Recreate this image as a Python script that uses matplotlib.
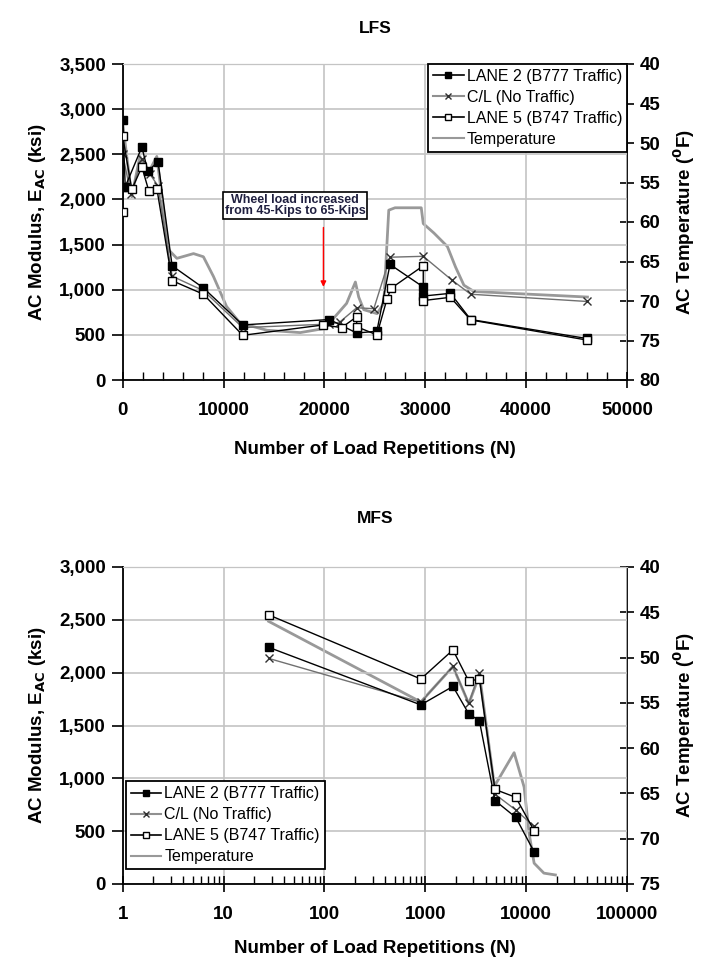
import matplotlib
matplotlib.use("Agg")
import matplotlib.pyplot as plt
from matplotlib.ticker import MultipleLocator, FuncFormatter, LogLocator, FixedLocator, NullFormatter
from matplotlib.lines import Line2D

plt.rcParams['font.family'] = ['Liberation Sans', 'DejaVu Sans']

# ---------------- LFS data ----------------
lfs_lane2_n = [0, 0, 250, 1900, 2500, 3500, 4900, 8000, 11900, 20500, 23200, 25200, 26500, 29800, 29800, 32500, 34500, 46000]
lfs_lane2_e = [2140, 2880, 2140, 2580, 2310, 2420, 1265, 1020, 610, 670, 520, 540, 1280, 1030, 930, 960, 670, 460]
lfs_cl_n = [0, 800, 1900, 2700, 3500, 4900, 8000, 11900, 20500, 21500, 23200, 24900, 26500, 29800, 32600, 34500, 46000]
lfs_cl_e = [2500, 2060, 2450, 2280, 2150, 1150, 990, 580, 620, 640, 800, 790, 1360, 1370, 1110, 950, 870]
lfs_lane5_n = [0, 0, 900, 1900, 2600, 3400, 4900, 8000, 11900, 19900, 21700, 23200, 23200, 25200, 26200, 26600, 29800, 29800, 32500, 34500, 46000]
lfs_lane5_e = [1865, 2700, 2110, 2360, 2090, 2110, 1100, 950, 495, 610, 580, 700, 590, 500, 895, 1015, 1265, 880, 916, 665, 443]
lfs_temp_n = [0, 900, 1700, 2540, 3380, 4540, 5370, 7020, 8000, 9000, 10300, 11650, 14300, 17600, 19900, 20900,
              22200, 23070, 23400, 23900, 25220, 25880, 26380, 27000, 29600, 29800, 30860, 32190, 33000, 33830, 34830, 46080]
lfs_temp_t = [47.5, 56.8, 51.7, 53.8, 51.7, 63.5, 64.6, 64.0, 64.4, 66.9, 70.7, 72.8, 73.7, 74.0, 73.5, 72.2,
              70.3, 67.6, 69.5, 71.1, 71.6, 70.3, 58.5, 58.2, 58.2, 60.2, 61.4, 63.1, 65.7, 68.0, 68.8, 69.5]

# ---------------- MFS data ----------------
mfs_n = [28, 903, 1880, 2700, 3440, 4910, 7900, 11990]
mfs_lane2_e = [2240, 1695, 1870, 1610, 1545, 790, 630, 305]
mfs_cl_e = [2135, 1720, 2060, 1710, 1995, 850, 700, 545]
mfs_lane5_e = [2547, 1940, 2215, 1920, 1940, 895, 820, 505]
mfs_temp_n = [28, 903, 1880, 2700, 3450, 4850, 7600, 9550, 10700, 12000, 15000, 19500]
mfs_temp_t = [46.0, 54.9, 51.0, 55.1, 51.9, 64.2, 60.5, 64.3, 69.4, 72.7, 73.8, 74.0]

labels = ['LANE 2 (B777 Traffic)', 'C/L (No Traffic)', 'LANE 5 (B747 Traffic)', 'Temperature']

W, H = 703, 967
fig = plt.figure(figsize=(W / 100, H / 100), dpi=100)

def fr(x0, y0, x1, y1):
    return [x0 / W, 1 - y1 / H, (x1 - x0) / W, (y1 - y0) / H]

TICK_FS = 13.5
LAB_FS = 13.5
GRID_C = '#c4c4c4'
TEMP_C = '#999999'

def style(ax, ax2, temp_lim, temp_step, xlabelpad):
    ax.grid(True, which='major', color=GRID_C, lw=1.2)
    ax.set_axisbelow(True)
    for s in ['left', 'bottom']:
        ax.spines[s].set_color('black')
        ax.spines[s].set_linewidth(1.3)
    ax.spines['top'].set_color(GRID_C)
    ax2.spines['top'].set_color(GRID_C)
    ax.spines['right'].set_visible(False)
    ax2.spines['left'].set_visible(False)
    ax2.spines['bottom'].set_visible(False)
    ax2.spines['right'].set_color('black')
    ax2.spines['right'].set_linewidth(1.3)
    ax.yaxis.set_major_formatter(FuncFormatter(lambda v, p: f'{int(v):,}'))
    ax.tick_params(axis='y', which='major', direction='out', length=8, width=1.2, labelsize=TICK_FS, pad=4)
    ax.tick_params(axis='x', which='major', direction='inout', length=12, width=1.2, labelsize=TICK_FS, pad=10)
    ax.tick_params(axis='x', which='minor', direction='in', length=6, width=1.0)
    ax2.set_ylim(*temp_lim)
    ax2.yaxis.set_major_locator(MultipleLocator(temp_step))
    ax2.tick_params(axis='y', direction='inout', length=10, width=1.2, labelsize=TICK_FS, pad=4)
    for lab in ax.get_xticklabels() + ax.get_yticklabels() + ax2.get_yticklabels():
        lab.set_fontweight('bold')
    ax.set_xlabel('Number of Load Repetitions (N)', fontsize=LAB_FS, fontweight='bold', labelpad=xlabelpad)
    ax.set_ylabel('AC Modulus, E$_{\\mathbf{AC}}$ (ksi)', fontsize=LAB_FS, fontweight='bold', labelpad=8)
    ax2.set_ylabel('AC Temperature ($^{\\mathbf{0}}$F)', fontsize=LAB_FS, fontweight='bold', labelpad=8)
    ax.set_zorder(ax2.get_zorder() + 1)
    ax.patch.set_visible(False)

def series(ax, n, e, m):
    if m == 'lane2':
        ax.plot(n, e, color='black', lw=1.0, marker='s', ms=6, mfc='black', mec='black', zorder=4)
    elif m == 'cl':
        ax.plot(n, e, color='#707070', lw=1.0, marker='x', ms=6, mec='#303030', mew=1.0, zorder=3)
    else:
        ax.plot(n, e, color='black', lw=1.0, marker='s', ms=6, mfc='white', mec='black', mew=1.0, zorder=5)

handles = [
    Line2D([], [], color='black', lw=1.2, marker='s', ms=5, mfc='black', mec='black'),
    Line2D([], [], color='#909090', lw=1.5, marker='x', ms=5, mec='#303030'),
    Line2D([], [], color='black', lw=1.2, marker='s', ms=5, mfc='white', mec='black'),
    Line2D([], [], color=TEMP_C, lw=1.5),
]
LEG_KW = dict(fontsize=11.5, frameon=True, fancybox=False, edgecolor='black', framealpha=1,
              handlelength=1.9, handletextpad=0.2, labelspacing=0.38, borderpad=0.3, borderaxespad=0)

# ---------------- LFS ----------------
ax = fig.add_axes(fr(122.7, 64, 627, 380))
ax2 = ax.twinx()
ax2.plot(lfs_temp_n, lfs_temp_t, color=TEMP_C, lw=2.0)
series(ax, lfs_lane2_n, lfs_lane2_e, 'lane2')
series(ax, lfs_cl_n, lfs_cl_e, 'cl')
series(ax, lfs_lane5_n, lfs_lane5_e, 'lane5')
ax.set_xlim(0, 50000)
ax.set_ylim(0, 3500)
ax.xaxis.set_major_locator(MultipleLocator(10000))
ax.xaxis.set_minor_locator(MultipleLocator(2000))
ax.yaxis.set_major_locator(MultipleLocator(500))
style(ax, ax2, (80, 40), 5, 16)
ax.set_title('LFS', fontsize=12.5, fontweight='bold', pad=22)
ax.annotate('', xy=(19900, 1000), xytext=(19900, 1720),
            arrowprops=dict(arrowstyle='-|>', color='red', lw=1.0, mutation_scale=8), zorder=6)
ax.text(17100, 1935, 'Wheel load increased\nfrom 45-Kips to 65-Kips', fontsize=9, fontweight='bold',
        color='#202040', ha='center', va='center', linespacing=0.95, zorder=6,
        bbox=dict(boxstyle='square,pad=0.15', fc='white', ec='black', lw=1.2))
leg = ax.legend(handles, labels, loc='upper right', bbox_to_anchor=(1.0, 1.0), **LEG_KW)
leg.get_frame().set_linewidth(1.3)

# ---------------- MFS ----------------
bx = fig.add_axes(fr(122.7, 567, 627, 884))
bx2 = bx.twinx()
bx2.plot(mfs_temp_n, mfs_temp_t, color=TEMP_C, lw=2.0)
series(bx, mfs_n, mfs_lane2_e, 'lane2')
series(bx, mfs_n, mfs_cl_e, 'cl')
series(bx, mfs_n, mfs_lane5_e, 'lane5')
bx.set_xscale('log')
bx.set_xlim(1, 100000)
bx.set_ylim(0, 3000)
bx.xaxis.set_major_locator(FixedLocator([1, 10, 100, 1000, 10000, 100000]))
bx.xaxis.set_major_formatter(FuncFormatter(lambda v, p: f'{int(round(v))}'))
bx.xaxis.set_minor_locator(LogLocator(base=10, subs=range(2, 10), numticks=20))
bx.xaxis.set_minor_formatter(NullFormatter())
bx.yaxis.set_major_locator(MultipleLocator(500))
style(bx, bx2, (75, 40), 5, 12)
bx.set_title('MFS', fontsize=12.5, fontweight='bold', pad=32)
leg2 = bx.legend(handles, labels, loc='lower left', bbox_to_anchor=(0.0065, 0.047), **LEG_KW)
leg2.get_frame().set_linewidth(1.3)

fig.savefig('out.png', dpi=100)
